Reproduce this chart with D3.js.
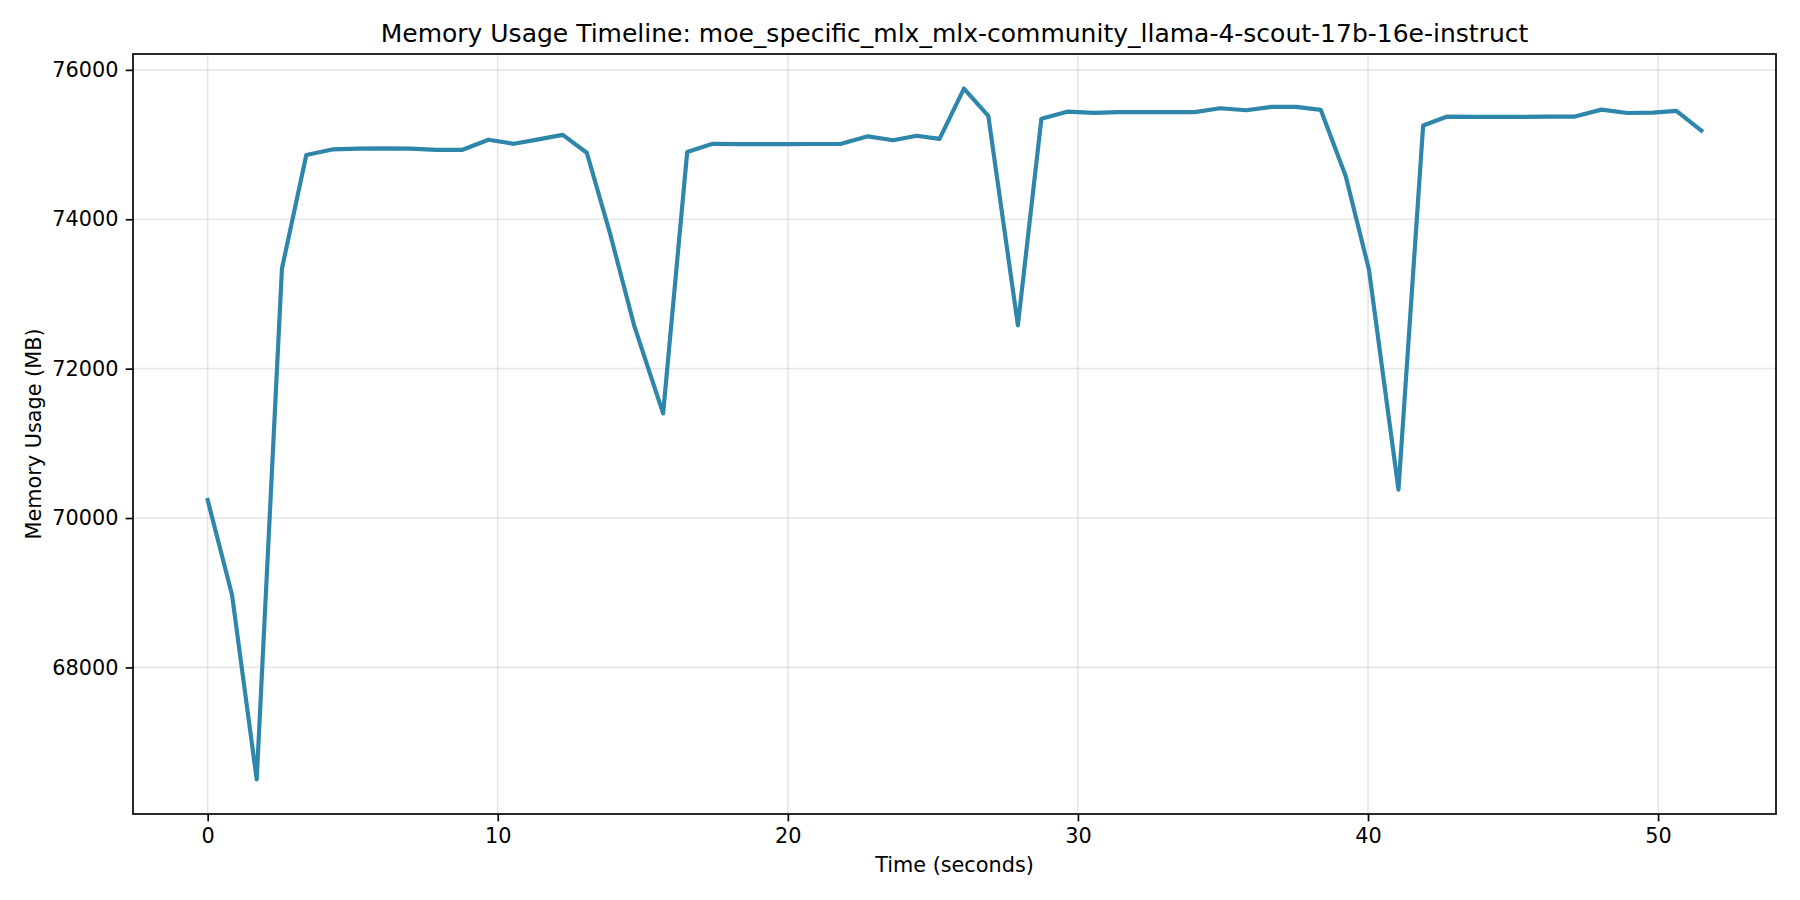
<!DOCTYPE html>
<html>
<head>
<meta charset="utf-8">
<script src="https://cdn.jsdelivr.net/npm/d3@7"></script>
<style>
    html, body { margin: 0; padding: 0; background: #fff; }
    svg text { font-family: 'DejaVu Sans', sans-serif; fill: #000; }
</style>
</head>
<body>
<div id="chart"></div>
<script>
const timeSeconds = [
    0.00, 0.84, 1.69, 2.56, 3.40, 4.29, 5.19, 6.09, 6.99, 7.89,
    8.79, 9.68, 10.56, 11.40, 12.24, 13.07, 13.87, 14.70, 15.70, 16.53,
    17.41, 18.30, 19.17, 20.03, 20.93, 21.84, 22.76, 23.63, 24.44, 25.23,
    26.07, 26.91, 27.93, 28.74, 29.63, 30.55, 31.40, 32.28, 33.15, 34.02,
    34.90, 35.80, 36.68, 37.52, 38.37, 39.23, 40.03, 41.05, 41.90, 42.73,
    43.61, 44.49, 45.37, 46.25, 47.13, 48.05, 48.94, 49.83, 50.63, 51.49
];
const memoryMB = [
    70240, 68970, 66500, 73340, 74860, 74935, 74945, 74950, 74945, 74930,
    74930, 75065, 75010, 75070, 75130, 74890, 73810, 72580, 71400, 74900,
    75010, 75005, 75005, 75007, 75008, 75010, 75110, 75058, 75118, 75076,
    75750, 75385, 72580, 75345, 75440, 75425, 75435, 75435, 75435, 75435,
    75486, 75460, 75505, 75505, 75465, 74580, 73330, 70380, 75255, 75375,
    75370, 75370, 75370, 75375, 75375, 75468, 75423, 75427, 75450, 75186
];
const xTicks = [0, 10, 20, 30, 40, 50];
const yTicks = [68000, 70000, 72000, 74000, 76000];
const chartTitle = 'Memory Usage Timeline: moe_specific_mlx_mlx-community_llama-4-scout-17b-16e-instruct';
const xLabel = 'Time (seconds)';
const yLabel = 'Memory Usage (MB)';

const size = { width: 1800, height: 900 };
const margin = { top: 54, right: 24, bottom: 86, left: 133 };
const width = size.width - margin.left - margin.right;
const height = size.height - margin.top - margin.bottom;
const lineColor = '#2E86AB';

// matplotlib style 5% padding around the data
function padded(values) {
    const ext = d3.extent(values);
    const pad = (ext[1] - ext[0]) * 0.05;
    return [ext[0] - pad, ext[1] + pad];
}

const points = timeSeconds.map((t, i) => ({ t: t, mb: memoryMB[i] }));

const svg = d3.select('#chart').append('svg')
    .attr('width', size.width)
    .attr('height', size.height);

const g = svg.append('g')
    .attr('transform', 'translate(' + margin.left + ',' + margin.top + ')');

const x = d3.scaleLinear().domain(padded(timeSeconds)).range([0, width]);
const y = d3.scaleLinear().domain(padded(memoryMB)).range([height, 0]);

// grid
g.append('g')
    .selectAll('line.vgrid')
    .data(xTicks)
    .join('line')
    .attr('x1', d => x(d)).attr('x2', d => x(d))
    .attr('y1', 0).attr('y2', height)
    .attr('stroke', '#b0b0b0').attr('stroke-opacity', 0.3)
    .attr('stroke-width', 1.67);

g.append('g')
    .selectAll('line.hgrid')
    .data(yTicks)
    .join('line')
    .attr('x1', 0).attr('x2', width)
    .attr('y1', d => y(d)).attr('y2', d => y(d))
    .attr('stroke', '#b0b0b0').attr('stroke-opacity', 0.3)
    .attr('stroke-width', 1.67);

// line
const line = d3.line()
    .x(d => x(d.t))
    .y(d => y(d.mb));

g.append('path')
    .datum(points)
    .attr('d', line)
    .attr('fill', 'none')
    .attr('stroke', lineColor)
    .attr('stroke-width', 4.17)
    .attr('stroke-linejoin', 'round')
    .attr('stroke-linecap', 'square');

// axes
const xAxis = g.append('g')
    .attr('transform', 'translate(0,' + height + ')')
    .call(d3.axisBottom(x).tickValues(xTicks).tickSize(7.3).tickPadding(7.3).tickFormat(d3.format('d')));

const yAxis = g.append('g')
    .call(d3.axisLeft(y).tickValues(yTicks).tickSize(7.3).tickPadding(7.3).tickFormat(d3.format('d')));

[xAxis, yAxis].forEach(ax => {
    ax.select('.domain').remove();
    ax.selectAll('.tick line').attr('stroke', '#000').attr('stroke-width', 1.67);
    ax.selectAll('.tick text')
        .style('font-family', "'DejaVu Sans', sans-serif")
        .style('font-size', '20.8px')
        .attr('fill', '#000');
});

// frame
g.append('rect')
    .attr('x', 0).attr('y', 0)
    .attr('width', width).attr('height', height)
    .attr('fill', 'none')
    .attr('stroke', '#000')
    .attr('stroke-width', 1.67);

// labels
g.append('text')
    .attr('x', width / 2)
    .attr('y', -12.5)
    .attr('text-anchor', 'middle')
    .style('font-size', '25px')
    .text(chartTitle);

g.append('text')
    .attr('x', width / 2)
    .attr('y', height + 57.5)
    .attr('text-anchor', 'middle')
    .style('font-size', '20.8px')
    .text(xLabel);

g.append('text')
    .attr('transform', 'translate(' + (-92) + ',' + (height / 2) + ') rotate(-90)')
    .attr('text-anchor', 'middle')
    .style('font-size', '20.8px')
    .text(yLabel);
</script>
</body>
</html>
